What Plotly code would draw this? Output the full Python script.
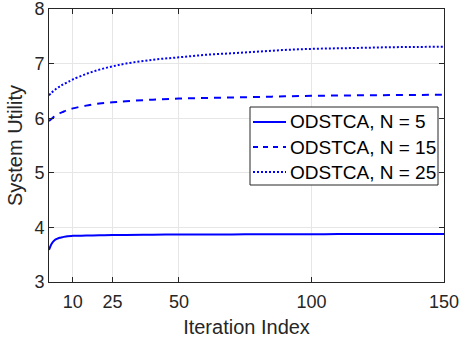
import plotly.graph_objects as go

# Data
iters = [1, 2, 3, 4, 5, 6, 8, 10, 15, 20, 25, 30, 40, 50, 60, 70, 80, 90, 100, 110, 120, 130, 140, 150]
util_n5 = [3.59, 3.70, 3.76, 3.79, 3.81, 3.82, 3.84, 3.845, 3.85, 3.855, 3.86, 3.86, 3.865, 3.87, 3.87, 3.872, 3.874, 3.875, 3.876, 3.877, 3.878, 3.879, 3.88, 3.88]
util_n15 = [5.95, 5.99, 6.03, 6.06, 6.09, 6.11, 6.15, 6.18, 6.23, 6.27, 6.29, 6.31, 6.34, 6.36, 6.37, 6.38, 6.39, 6.40, 6.41, 6.415, 6.42, 6.423, 6.426, 6.43]
util_n25 = [6.42, 6.47, 6.51, 6.55, 6.58, 6.61, 6.66, 6.71, 6.81, 6.89, 6.95, 7.00, 7.07, 7.115, 7.16, 7.19, 7.22, 7.25, 7.27, 7.28, 7.29, 7.30, 7.305, 7.31]
series_names = ["ODSTCA, N = 5", "ODSTCA, N = 15", "ODSTCA, N = 25"]
x_ticks = [10, 25, 50, 100, 150]
y_ticks = [3, 4, 5, 6, 7, 8]

font = "Liberation Sans, Arial, sans-serif"
axis_col = "#262626"
grid_col = "#e6e6e6"
blue = "#0000ff"

W, H = 459, 344
ML, MR, MT, MB = 49, 15, 9, 62
PW, PH = W - ML - MR, H - MT - MB


def px_x(p):
    return (p - ML) / PW


def px_y(p):
    return (H - MB - p) / PH


dashes = ["solid", "7px,6px", "2px,2px"]
legend_dashes = ["solid", "5px,5px", "2px,2px"]
series = [util_n5, util_n15, util_n25]

fig = go.Figure()
for name, dash, ys in zip(series_names, dashes, series):
    fig.add_trace(go.Scatter(x=iters, y=ys, mode="lines", name=name, showlegend=False,
                             line=dict(color=blue, width=2, dash=dash, shape="spline")))

axis_common = dict(showline=True, linecolor=axis_col, linewidth=1, mirror="ticks",
                   ticks="inside", ticklen=5, tickcolor=axis_col, automargin=False,
                   ticklabeloverflow="allow",
                   showgrid=True, gridcolor=grid_col, gridwidth=1, zeroline=False,
                   tickfont=dict(family=font, size=18, color=axis_col))

# custom legend box (MATLAB style)
shapes = [dict(type="rect", xref="paper", yref="paper",
               x0=px_x(250), x1=px_x(438), y0=px_y(185), y1=px_y(107),
               fillcolor="white", line=dict(color=axis_col, width=1), layer="above")]
annotations = []
row_y = [122, 147, 172]
for name, dash, ry in zip(series_names, legend_dashes, row_y):
    shapes.append(dict(type="line", xref="paper", yref="paper",
                       x0=px_x(253), x1=px_x(286), y0=px_y(ry), y1=px_y(ry),
                       line=dict(color=blue, width=2, dash=dash), layer="above"))
    annotations.append(dict(text=name, xref="paper", yref="paper", x=px_x(288), y=px_y(ry),
                            xanchor="left", yanchor="middle", showarrow=False,
                            font=dict(family=font, size=19, color="black")))

fig.update_layout(
    width=W, height=H,
    margin=dict(l=ML, r=MR, t=MT, b=MB),
    paper_bgcolor="white", plot_bgcolor="white",
    xaxis=dict(range=[1, 150], tickvals=x_ticks, ticklabelstandoff=3,
               title=dict(text="Iteration Index", font=dict(family=font, size=20, color=axis_col), standoff=9),
               **axis_common),
    yaxis=dict(range=[3, 8], tickvals=y_ticks,
               title=dict(text="System Utility", font=dict(family=font, size=20, color=axis_col), standoff=6),
               **axis_common),
    shapes=shapes,
    annotations=annotations,
    showlegend=False,
)

fig.write_html("out.html")
